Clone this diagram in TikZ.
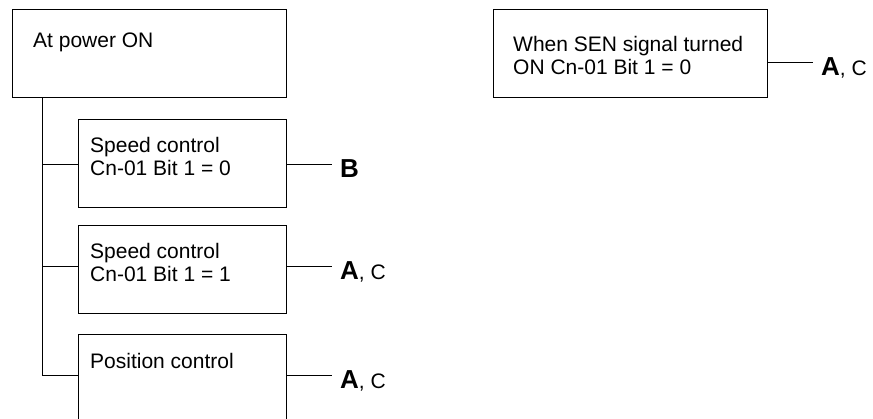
\documentclass[tikz,border=0pt]{standalone}
\usepackage{fontspec}
\setmainfont{Liberation Sans}
\usepackage{tikz}
\usetikzlibrary{positioning, calc}

\begin{document}
\begin{tikzpicture}[
    x=1pt, y=-1pt,
    box/.style={draw, line width=0.8pt, rectangle, anchor=north west, minimum height=88pt, inner sep=0pt},
    widebox/.style={box, minimum width=274pt},
    narrowbox/.style={box, minimum width=208pt},
    boxtext/.style={align=left, inner sep=0pt, font=\fontsize{21}{23}\selectfont},
    result/.style={anchor=base west, inner sep=0pt, font=\fontsize{21}{23}\selectfont},
    line/.style={draw, line width=0.8pt}
]
    \useasboundingbox (0,0) rectangle (873,419);
    \clip (0,0) rectangle (873,419);

    % boxes
    \node[widebox] (power) at (12,9) {};
    \node[boxtext, below right=24pt and 21pt of power.north west] (powertxt) {At power ON};
    \node[narrowbox] (spd0) at (78,119) {};
    \node[boxtext, below right=18pt and 12pt of spd0.north west] (spd0txt) {Speed control\\Cn-01 Bit 1 = 0};
    \node[narrowbox] (spd1) at (78,225) {};
    \node[boxtext, below right=18pt and 12pt of spd1.north west] (spd1txt) {Speed control\\Cn-01 Bit 1 = 1};
    \node[narrowbox] (pos) at (78,334) {};
    \node[boxtext, below right=19pt and 12pt of pos.north west] (postxt) {Position control};
    \node[widebox] (sen) at (493,9) {};
    \node[boxtext, below right=27pt and 20pt of sen.north west] (sentxt) {When SEN signal turned\\ON Cn-01 Bit 1 = 0};

    % line ends
    \coordinate (trunk) at ($(power.south west)+(30,0)$);
    \coordinate (endB) at (332,164);
    \coordinate (endspd) at (332,266);
    \coordinate (endpos) at (332,375);
    \coordinate (endsen) at (813,62);

    % tree
    \draw[line] (trunk) -- (trunk |- endpos);
    \draw[line] (trunk |- endB) -- (spd0.west |- endB);
    \draw[line] (trunk |- endspd) -- (spd1.west |- endspd);
    \draw[line] (trunk |- endpos) -- (pos.west |- endpos);

    % results
    \draw[line] (spd0.east |- endB) -- (endB);
    \draw[line] (spd1.east |- endspd) -- (endspd);
    \draw[line] (pos.east |- endpos) -- (endpos);
    \draw[line] (sen.east |- endsen) -- (endsen);
    \node[result] (resB) at ($(endB)+(8,14)$) {{\fontsize{26}{26}\selectfont\bfseries B}};
    \node[result] (resspd) at ($(endspd)+(8,14)$) {{\fontsize{26}{26}\selectfont\bfseries A}, C};
    \node[result] (respos) at ($(endpos)+(8,14)$) {{\fontsize{26}{26}\selectfont\bfseries A}, C};
    \node[result] (ressen) at ($(endsen)+(8,14)$) {{\fontsize{26}{26}\selectfont\bfseries A}, C};
\end{tikzpicture}
\end{document}
